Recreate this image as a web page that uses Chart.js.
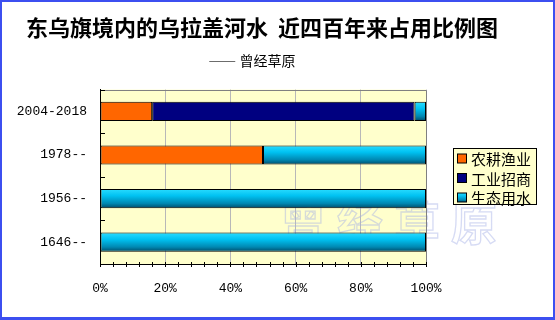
<!DOCTYPE html>
<html>
<head>
<meta charset="utf-8">
<title>东乌旗境内的乌拉盖河水 近四百年来占用比例图</title>
<script src="https://cdn.jsdelivr.net/npm/chart.js@4.4.0/dist/chart.umd.min.js"></script>
<style>
  body { margin: 0; background: #fff; }
  canvas { display: block; }
</style>
</head>
<body>
<canvas id="chart" width="555" height="320"></canvas>
<script>
// data (percent of the river water)
const periods = ["2004-2018", "1978--", "1956--", "1646--"];
const seriesNames = ["农耕渔业", "工业招商", "生态用水"];
const farming = [16, 50, 0, 0];
const industry = [80.5, 0, 0, 0];
const ecology = [3.5, 50, 100, 100];
const xTicks = [0, 20, 40, 60, 80, 100];

const cjk = '"Noto Sans CJK SC", "Noto Sans", sans-serif';
const mono = '"Liberation Mono", "DejaVu Sans Mono", monospace';
const barPct = 0.44;

function cyanGradient(ctx, top, bottom) {
  const g = ctx.createLinearGradient(0, top, 0, bottom);
  g.addColorStop(0, "#2adcff");
  g.addColorStop(0.35, "#00c2f2");
  g.addColorStop(0.75, "#0088b2");
  g.addColorStop(1, "#004a68");
  return g;
}

// vertical gradient for the 生态用水 bars, placed on each bar through the y scale
function ecoFill(context) {
  const chart = context.chart;
  const y = chart.scales.y;
  if (!chart.chartArea || !y || context.dataIndex === undefined) return "#00b8e8";
  const c = y.getPixelForValue(context.dataIndex);
  const half = Math.abs(y.getPixelForValue(1) - y.getPixelForValue(0)) * barPct / 2;
  return cyanGradient(chart.ctx, c - half, c + half);
}

const seriesColors = ["#ff6600", "#000080", ecoFill];

const framePlugin = {
  id: "frame",
  beforeDraw(chart) {
    const { ctx, chartArea: a } = chart;
    ctx.save();
    ctx.fillStyle = "#ffffcc";
    ctx.fillRect(a.left, a.top, a.right - a.left, a.bottom - a.top);
    ctx.restore();
  },
  beforeDatasetsDraw(chart) {
    // faint watermark
    const ctx = chart.ctx;
    ctx.save();
    ctx.font = "bold 46px " + cjk;
    ctx.letterSpacing = "11px";
    ctx.textAlign = "center";
    ctx.textBaseline = "middle";
    ctx.strokeStyle = "rgba(165,175,230,0.45)";
    ctx.lineWidth = 1.3;
    ctx.strokeText("曾经草原", 394, 223);
    ctx.restore();
  },
  afterDraw(chart) {
    const { ctx, chartArea: a, scales } = chart;
    ctx.save();
    // top and right edge of the plot
    ctx.strokeStyle = "#808080";
    ctx.lineWidth = 1;
    ctx.beginPath();
    ctx.moveTo(Math.round(a.left) + 0.5, Math.round(a.top) + 0.5);
    ctx.lineTo(Math.round(a.right) + 0.5, Math.round(a.top) + 0.5);
    ctx.lineTo(Math.round(a.right) + 0.5, Math.round(a.bottom) + 0.5);
    ctx.stroke();

    // x ticks, major and minor
    ctx.strokeStyle = "#000";
    ctx.beginPath();
    for (let v = 0; v <= 100; v += 4) {
      const x = Math.round(scales.x.getPixelForValue(v)) + 0.5;
      ctx.moveTo(x, a.bottom - 2);
      ctx.lineTo(x, a.bottom + 3);
    }
    // y ticks on the inside, between categories
    for (let i = 0; i <= periods.length; i++) {
      const y = Math.round(scales.y.getPixelForValue(i - 0.5)) + 0.5;
      ctx.moveTo(a.left, y);
      ctx.lineTo(a.left + 5, y);
    }
    ctx.stroke();

    // legend
    const lx = 453, ly = 148, lw = 83, lh = 56;
    ctx.fillStyle = "#ffffcc";
    ctx.fillRect(lx, ly, lw, lh);
    ctx.strokeStyle = "#000";
    ctx.strokeRect(lx + 0.5, ly + 0.5, lw, lh);
    ctx.font = "15px " + cjk;
    ctx.textBaseline = "middle";
    ctx.textAlign = "left";
    seriesNames.forEach((name, i) => {
      const cy = 158.5 + i * 19.5;
      const col = seriesColors[i];
      ctx.fillStyle = typeof col === "function" ? cyanGradient(ctx, cy - 5, cy + 5) : col;
      ctx.fillRect(457.5, cy - 4.5, 9, 9);
      ctx.strokeRect(457.5, cy - 4.5, 9, 9);
      ctx.fillStyle = "#000";
      ctx.fillText(name, 471, cy + 1);
    });

    // blue frame round the picture
    ctx.fillStyle = "#3c4ff0";
    ctx.fillRect(0, 0, 555, 2);
    ctx.fillRect(0, 0, 2, 320);
    ctx.fillRect(553, 0, 2, 320);
    ctx.fillRect(0, 317, 555, 3);
    ctx.restore();
  }
};

const datasets = [farming, industry, ecology].map((values, i) => ({
  label: seriesNames[i],
  data: values,
  backgroundColor: seriesColors[i],
  borderColor: "#000",
  borderWidth: 1,
  borderSkipped: false,
  barPercentage: barPct,
  categoryPercentage: 1
}));

new Chart(document.getElementById("chart"), {
  type: "bar",
  data: { labels: periods, datasets: datasets },
  options: {
    indexAxis: "y",
    responsive: false,
    animation: false,
    layout: { padding: { left: 0, right: 31, top: 0, bottom: 0 } },
    plugins: {
      legend: { display: false },
      tooltip: { enabled: false },
      title: {
        display: true,
        text: "东乌旗境内的乌拉盖河水  近四百年来占用比例图",
        color: "#000",
        font: { family: cjk, size: 22, weight: "bold" },
        padding: { top: 14, bottom: 10 }
      },
      subtitle: {
        display: true,
        text: "―― 曾经草原\u3000  ",
        color: "#000",
        font: { family: cjk, size: 14, weight: "normal" },
        padding: { top: 2, bottom: 20.4 }
      }
    },
    scales: {
      x: {
        stacked: true,
        min: 0,
        max: 100,
        afterBuildTicks: (s) => { s.ticks = xTicks.map((v) => ({ value: v })); },
        afterFit: (s) => { s.height = 56; },
        grid: {
          drawTicks: false,
          color: (c) => (c.tick && c.tick.value === 0 ? "rgba(0,0,0,0)" : "#b8b8b8")
        },
        border: { display: true, color: "#000" },
        ticks: {
          padding: 17,
          color: "#000",
          font: { family: mono, size: 13 },
          callback: (v) => v + "%"
        }
      },
      y: {
        stacked: true,
        afterFit: (s) => { s.width = 100; },
        grid: { display: false, drawTicks: false },
        border: { display: true, color: "#000" },
        ticks: {
          padding: 13,
          color: "#000",
          font: { family: mono, size: 13 }
        }
      },
      yr: {
        type: "linear",
        position: "right",
        afterFit: (s) => { s.width = 98; },
        grid: { display: false, drawTicks: false },
        border: { display: false },
        ticks: { display: false }
      }
    }
  },
  plugins: [framePlugin]
});
</script>
</body>
</html>
